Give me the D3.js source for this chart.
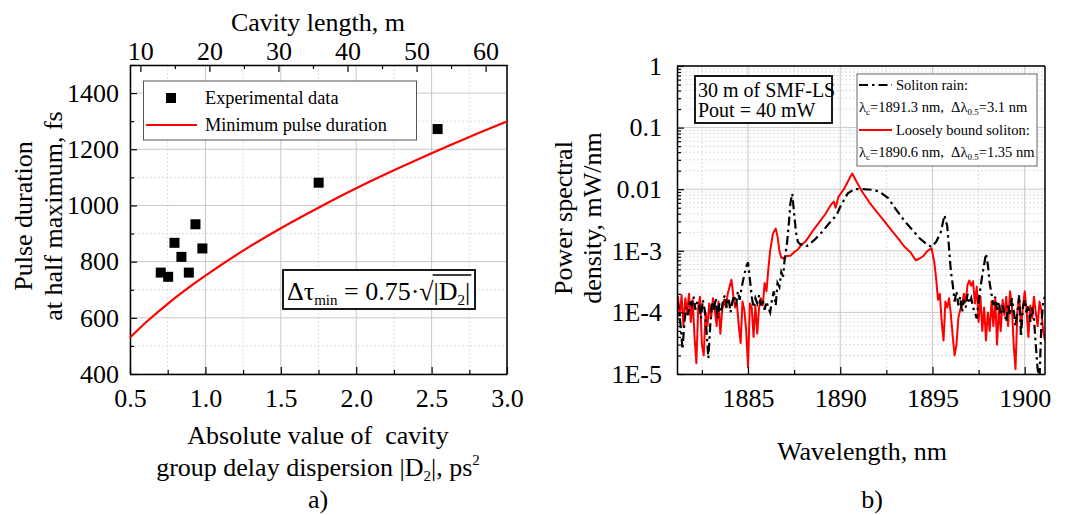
<!DOCTYPE html>
<html><head><meta charset="utf-8">
<script src="https://cdn.jsdelivr.net/npm/d3@7"></script>
<style>
html,body{margin:0;padding:0;background:#fff;}
svg text{font-family:"Liberation Serif","Times New Roman","DejaVu Serif",serif !important;fill:#000;}
</style></head>
<body><svg id="c" width="1084" height="515" font-family="Liberation Serif"></svg>
<script>
// ---------- Panel a) data ----------
const expD2 = [0.704, 0.753, 0.795, 0.841, 0.890, 0.934, 0.980, 1.751, 2.540];
const expPulse = [761, 746, 867, 817, 761, 933, 847, 1081, 1272];
const minD2 = [0.5, 0.625, 0.75, 0.875, 1.0, 1.25, 1.5, 1.75, 2.0, 2.25, 2.5, 2.75, 3.0];
const minPulse = [530, 593, 650, 702, 750, 839, 919, 992, 1061, 1125, 1186, 1244, 1299];
const aXTicks = [0.5, 1.0, 1.5, 2.0, 2.5, 3.0];
const aYTicks = [400, 600, 800, 1000, 1200, 1400];
const aTopTicks = [10, 20, 30, 40, 50, 60];

// ---------- Panel b) data ----------
const rainWl = [1881.15,1881.25,1881.35,1881.45,1881.55,1881.65,1881.75,1881.85,1881.95,1882.05,1882.15,1882.25,1882.35,1882.45,1882.55,1882.65,1882.75,1882.85,1882.95,1883.05,1883.15,1883.25,1883.35,1883.45,1883.55,1883.65,1883.75,1883.85,1883.95,1884.05,1884.15,1884.25,1884.35,1884.45,1884.55,1884.65,1884.75,1884.9,1885.0,1885.1,1885.2,1885.3,1885.4,1885.5,1885.6,1885.7,1885.8,1885.9,1886.0,1886.1,1886.2,1886.3,1886.4,1886.5,1886.6,1886.7,1886.8,1886.9,1887.0,1887.1,1887.2,1887.3,1887.4,1887.5,1887.6,1887.7,1887.85,1888.0,1888.2,1888.6,1889.0,1889.4,1889.8,1890.0,1890.4,1890.75,1891.2,1891.7,1892.1,1892.6,1893.0,1893.5,1893.9,1894.3,1894.6,1894.95,1895.2,1895.45,1895.65,1895.8,1895.9,1896.0,1896.1,1896.2,1896.3,1896.4,1896.5,1896.6,1896.7,1896.8,1896.9,1897.0,1897.1,1897.2,1897.3,1897.4,1897.5,1897.6,1897.7,1897.8,1897.9,1898.0,1898.1,1898.2,1898.3,1898.4,1898.5,1898.6,1898.7,1898.8,1898.9,1899.0,1899.1,1899.2,1899.3,1899.4,1899.5,1899.6,1899.7,1899.8,1899.9,1900.0,1900.1,1900.2,1900.3,1900.4,1900.5,1900.6,1900.7,1900.8,1900.9,1901.0,1901.1];
const rainPsd = [1.6e-4,1.1e-4,6e-5,2.5e-5,7e-5,1.2e-4,9e-5,1.6e-4,1.3e-4,1.8e-4,1.1e-4,1.5e-4,1.3e-4,8e-5,1.6e-4,1.1e-4,5e-5,1.8e-5,6e-5,1.5e-4,1.1e-4,1.7e-4,8e-5,1.4e-4,1e-4,1.6e-4,1.9e-4,1.2e-4,1.7e-4,1e-4,1.5e-4,1.9e-4,1.3e-4,2.2e-4,1.6e-4,2.5e-4,3.5e-4,5.5e-4,6.5e-4,3.5e-4,1.8e-4,1.2e-4,1.7e-4,1.4e-4,1.9e-4,1.3e-4,1.6e-4,1.1e-4,1.5e-4,1.2e-4,1.0e-4,1.6e-4,2.2e-4,1.3e-4,3.0e-4,2.6e-4,4.5e-4,3.8e-4,8e-4,1.2e-3,2.5e-3,6e-3,8.5e-3,4e-3,2e-3,1.4e-3,1.25e-3,1.3e-3,1.2e-3,1.5e-3,2.0e-3,2.8e-3,3.8e-3,5.2e-3,8.5e-3,1.0e-2,1.0e-2,9.8e-3,9.2e-3,7.2e-3,4.8e-3,3.0e-3,2.2e-3,1.6e-3,1.35e-3,1.15e-3,1.4e-3,2e-3,3.8e-3,2.5e-3,1.1e-3,4.5e-4,2.8e-4,1.5e-4,2.2e-4,1.3e-4,1.8e-4,1.0e-4,1.6e-4,1.2e-4,2.0e-4,1.4e-4,1.7e-4,1.2e-4,1.0e-4,8e-5,1.5e-4,2.5e-4,4e-4,6e-4,9e-4,6e-4,3e-4,2.0e-4,1.3e-4,1.8e-4,1.1e-4,1.5e-4,9e-5,1.3e-4,1.0e-4,7e-5,1.4e-4,9e-5,1.7e-4,1.1e-4,6e-5,1.0e-4,1.9e-4,4e-5,1.2e-4,1.6e-4,1.0e-4,1.3e-4,7e-5,1.2e-4,8e-5,3e-5,1.2e-5,8e-6,6e-5,1.5e-4,1.8e-4];

const boundWl = [1881.15,1881.2,1881.3,1881.4,1881.5,1881.6,1881.7,1881.8,1881.9,1882.0,1882.1,1882.2,1882.3,1882.4,1882.5,1882.6,1882.7,1882.8,1882.9,1883.0,1883.1,1883.2,1883.3,1883.4,1883.5,1883.6,1883.7,1883.8,1883.9,1884.0,1884.1,1884.2,1884.3,1884.4,1884.5,1884.6,1884.7,1884.8,1884.9,1885.0,1885.1,1885.2,1885.3,1885.4,1885.5,1885.6,1885.7,1885.8,1885.9,1886.0,1886.1,1886.2,1886.35,1886.5,1886.6,1886.7,1886.8,1886.95,1887.1,1887.3,1887.5,1887.7,1887.9,1888.1,1888.3,1888.6,1888.9,1889.2,1889.5,1889.65,1889.75,1889.9,1890.2,1890.45,1890.65,1890.9,1891.2,1891.6,1892.0,1892.4,1892.8,1893.2,1893.5,1893.8,1894.1,1894.3,1894.5,1894.7,1894.95,1895.1,1895.2,1895.3,1895.4,1895.5,1895.6,1895.7,1895.8,1895.9,1896.0,1896.1,1896.2,1896.3,1896.4,1896.5,1896.6,1896.7,1896.8,1896.9,1897.0,1897.1,1897.2,1897.3,1897.4,1897.5,1897.6,1897.7,1897.8,1897.9,1898.0,1898.1,1898.2,1898.3,1898.4,1898.5,1898.6,1898.7,1898.8,1898.9,1899.0,1899.1,1899.2,1899.3,1899.4,1899.5,1899.6,1899.7,1899.8,1899.9,1900.0,1900.1,1900.2,1900.3,1900.4,1900.5,1900.6,1900.7,1900.8,1900.9,1901.0,1901.1];
const boundPsd = [1.0e-4,1.8e-4,9e-5,1.9e-4,6e-5,1.7e-4,1.0e-4,2.0e-4,7e-5,1.6e-4,4e-5,1.5e-5,1.2e-4,1.8e-4,3e-5,2.0e-5,1.0e-4,6e-5,1.4e-4,8e-5,1.7e-4,1.1e-4,6e-5,1.5e-4,4.5e-5,1.1e-4,1.6e-4,1.2e-4,2.0e-4,2.6e-4,3.4e-4,1.9e-4,1.2e-4,1.4e-4,6e-5,3.2e-5,1.5e-4,1.1e-4,5e-5,1.3e-5,1.4e-4,1.2e-4,4e-5,1.3e-4,4.5e-5,1.2e-4,1.7e-4,1.3e-4,3e-4,2.2e-4,5e-4,1.0e-3,1.9e-3,2.3e-3,1.7e-3,1.0e-3,7.8e-4,7.5e-4,8.2e-4,8.3e-4,9.5e-4,1.05e-3,1.25e-3,1.4e-3,1.7e-3,2.3e-3,3.0e-3,4.0e-3,5.6e-3,6.3e-3,5.0e-3,7.5e-3,1.0e-2,1.4e-2,1.8e-2,1.3e-2,9e-3,6e-3,4.2e-3,3.0e-3,2.1e-3,1.5e-3,1.15e-3,9.5e-4,7.0e-4,7.5e-4,8.2e-4,9.8e-4,1.1e-3,6.5e-4,3.5e-4,1.6e-4,2.0e-4,7e-5,3.5e-5,1.5e-4,1.2e-4,1.7e-4,9e-5,4e-5,2.0e-5,3e-5,8e-5,1.1e-4,1.3e-4,2.0e-4,1.5e-4,2.8e-4,3.3e-4,2.7e-4,3.2e-4,1.4e-4,2.6e-4,7e-5,1.8e-4,5e-5,1.2e-4,3.5e-5,1.0e-4,5e-5,1.5e-4,6e-5,1.7e-4,3e-5,1.2e-4,5e-5,1.6e-4,9e-5,1.8e-4,6e-5,2.2e-4,1.4e-4,3e-5,1.2e-5,1.0e-4,1.8e-4,6e-5,1.2e-4,2.2e-4,1.1e-4,4e-5,1.3e-4,8e-5,1.8e-4,1.0e-4,6e-5,1.5e-4,1.1e-4,5e-5,3.5e-5];
const bXTicks = [1885, 1890, 1895, 1900];
const bYTicks = [1, 0.1, 0.01, 1e-3, 1e-4, 1e-5];
const bYLabels = ["1", "0.1", "0.01", "1E-3", "1E-4", "1E-5"];

const FONT = "Liberation Serif";
const svg = d3.select("#c");
const gridMajor = "#c8c8c8", gridMinor = "#dcdcdc";
const fs = "26px";
function txt(g, x, y, size, s) {
  return g.append("text").attr("x", x).attr("y", y).attr("font-family", FONT).style("font-size", size).text(s);
}

// ===================== Panel a =====================
const xA = d3.scaleLinear([0.5, 3], [130, 507]);
const yA = d3.scaleLinear([400, 1500], [374, 65]);
const xTop = d3.scaleLinear([8.5, 63.1], [130, 507]);
const gA = svg.append("g");

const aXMinor = d3.range(0.75, 3, 0.5);
const aYMinor = d3.range(500, 1501, 200);
gA.selectAll(".gmx").data(aXMinor).join("line").attr("x1", d => xA(d)).attr("x2", d => xA(d)).attr("y1", 65).attr("y2", 374)
  .attr("stroke", gridMinor).attr("stroke-dasharray", "2,2");
gA.selectAll(".gmy").data(aYMinor).join("line").attr("y1", d => yA(d)).attr("y2", d => yA(d)).attr("x1", 130).attr("x2", 507)
  .attr("stroke", gridMinor).attr("stroke-dasharray", "2,2");
gA.selectAll(".gx").data(aXTicks).join("line").attr("x1", d => xA(d)).attr("x2", d => xA(d)).attr("y1", 65).attr("y2", 374)
  .attr("stroke", gridMajor);
gA.selectAll(".gy").data(aYTicks).join("line").attr("y1", d => yA(d)).attr("y2", d => yA(d)).attr("x1", 130).attr("x2", 507)
  .attr("stroke", gridMajor);

function styleAxis(a) {
  a.attr("font-family", FONT);
  a.selectAll("text").attr("font-family", FONT).style("font-size", fs);
  a.select(".domain").attr("stroke", "#000").attr("stroke-width", 1.5);
  a.selectAll(".tick line").attr("stroke", "#000").attr("stroke-width", 1.2);
}
const axB = gA.append("g").attr("transform", "translate(0,374)")
  .call(d3.axisBottom(xA).tickValues(d3.range(0.5, 3.01, 0.25)).tickSize(-6).tickSizeOuter(0).tickPadding(15)
  .tickFormat(d => aXTicks.some(t => Math.abs(t - d) < 1e-9) ? d3.format(".1f")(d) : ""));
axB.selectAll(".tick line").attr("y2", (d) => aXTicks.some(t => Math.abs(t - d) < 1e-9) ? -7 : -4);
const axL = gA.append("g").attr("transform", "translate(130,0)")
  .call(d3.axisLeft(yA).tickValues(d3.range(400, 1501, 100)).tickSize(-6).tickSizeOuter(0).tickPadding(11)
  .tickFormat(d => aYTicks.includes(d) ? d : ""));
axL.selectAll(".tick line").attr("x2", d => aYTicks.includes(d) ? 7 : 4);
const axT = gA.append("g").attr("transform", "translate(0,65)")
  .call(d3.axisTop(xTop).tickValues(d3.range(10, 63, 5)).tickSize(-6).tickSizeOuter(0).tickPadding(5)
  .tickFormat(d => aTopTicks.includes(d) ? d : ""));
axT.selectAll(".tick line").attr("y2", d => aTopTicks.includes(d) ? 7 : 4);
[axB, axL, axT].forEach(styleAxis);
gA.append("line").attr("x1", 507).attr("x2", 507).attr("y1", 65).attr("y2", 374).attr("stroke", "#000").attr("stroke-width", 1.5);

gA.append("path").datum(minD2.map((d, i) => [d, minPulse[i]]))
  .attr("d", d3.line().x(d => xA(d[0])).y(d => yA(d[1])).curve(d3.curveMonotoneX))
  .attr("fill", "none").attr("stroke", "#ff0000").attr("stroke-width", 2.2);
const sq = 10;
gA.selectAll(".sq").data(expD2.map((d, i) => [d, expPulse[i]])).join("rect")
  .attr("x", d => xA(d[0]) - sq / 2).attr("y", d => yA(d[1]) - sq / 2).attr("width", sq).attr("height", sq).attr("fill", "#000");

// legend a
gA.append("rect").attr("x", 143.5).attr("y", 81).attr("width", 273).attr("height", 59).attr("fill", "#fff").attr("stroke", "#555").attr("stroke-width", 1);
gA.append("rect").attr("x", 171 - sq / 2).attr("y", 98 - sq / 2).attr("width", sq).attr("height", sq).attr("fill", "#000");
txt(gA, 205, 104, "18.3px", "Experimental data");
gA.append("line").attr("x1", 146).attr("x2", 197).attr("y1", 125).attr("y2", 125).attr("stroke", "#ff0000").attr("stroke-width", 2.2);
txt(gA, 205, 131, "18.3px", "Minimum pulse duration");

// formula box
gA.append("rect").attr("x", 283).attr("y", 270).attr("width", 192).attr("height", 39).attr("fill", "#fff").attr("stroke", "#000").attr("stroke-width", 1.8);
const f1 = txt(gA, 287, 300, "26px", null);
f1.append("tspan").text("Δτ");
f1.append("tspan").attr("dy", 5).style("font-size", "15px").text("min");
f1.append("tspan").attr("dy", -5).text(" = 0.75·√");
const f1w = f1.node().getComputedTextLength();
const f2 = txt(gA, 287 + f1w, 300, "26px", null);
f2.append("tspan").text("|D");
f2.append("tspan").attr("dy", 5).style("font-size", "15px").text("2");
f2.append("tspan").attr("dy", -5).text("|");
const f2w = f2.node().getComputedTextLength();
gA.append("line").attr("x1", 287 + f1w - 1).attr("x2", 287 + f1w + f2w + 1).attr("y1", 275).attr("y2", 275).attr("stroke", "#000").attr("stroke-width", 1.3);

// titles a
txt(gA, 318, 31, fs, "Cavity length, m").attr("text-anchor", "middle");
gA.append("text").attr("font-family", FONT).attr("transform", "translate(32,216) rotate(-90)").attr("text-anchor", "middle").style("font-size", fs).text("Pulse duration");
gA.append("text").attr("font-family", FONT).attr("transform", "translate(62,216) rotate(-90)").attr("text-anchor", "middle").style("font-size", fs).text("at half maximum, fs");
txt(gA, 318, 444, fs, "Absolute value of  cavity").attr("text-anchor", "middle").style("white-space", "pre");
const t2 = txt(gA, 318, 476, fs, null).attr("text-anchor", "middle");
t2.append("tspan").text("group delay dispersion |D");
t2.append("tspan").attr("dy", 5).style("font-size", "15px").text("2");
t2.append("tspan").attr("dy", -5).text("|, ps");
t2.append("tspan").attr("dy", -11).style("font-size", "15px").text("2");
txt(gA, 318, 508, fs, "a)").attr("text-anchor", "middle");

// ===================== Panel b =====================
const xB = d3.scaleLinear([1881.15, 1901.1], [677, 1045]);
const yB = d3.scaleLog([1e-5, 1], [374, 66]);
const gB = svg.append("g");
const bXMinor = [1882.5, 1887.5, 1892.5, 1897.5];
const bYMinor = [];
for (let e = -5; e < 0; e++) for (let m = 2; m <= 9; m++) bYMinor.push(m * Math.pow(10, e));
gB.selectAll(".bgmx").data(bXMinor).join("line").attr("x1", d => xB(d)).attr("x2", d => xB(d)).attr("y1", 66).attr("y2", 374)
  .attr("stroke", gridMinor).attr("stroke-dasharray", "2,2");
gB.selectAll(".bgmy").data(bYMinor).join("line").attr("y1", d => yB(d)).attr("y2", d => yB(d)).attr("x1", 677).attr("x2", 1045)
  .attr("stroke", gridMinor).attr("stroke-dasharray", "2,2");
gB.selectAll(".bgx").data(bXTicks).join("line").attr("x1", d => xB(d)).attr("x2", d => xB(d)).attr("y1", 66).attr("y2", 374)
  .attr("stroke", gridMajor);
gB.selectAll(".bgy").data(bYTicks).join("line").attr("y1", d => yB(d)).attr("y2", d => yB(d)).attr("x1", 677).attr("x2", 1045)
  .attr("stroke", gridMajor);

svg.append("defs").append("clipPath").attr("id", "clipB").append("rect").attr("x", 677).attr("y", 66).attr("width", 368).attr("height", 308);
const lineB = d3.line().x(d => xB(d[0])).y(d => yB(Math.max(d[1], 1e-6)));
gB.append("path").datum(boundWl.map((d, i) => [d, boundPsd[i]])).attr("clip-path", "url(#clipB)")
  .attr("d", lineB).attr("fill", "none").attr("stroke", "#ff0000").attr("stroke-width", 2).attr("stroke-linejoin", "round");
gB.append("path").datum(rainWl.map((d, i) => [d, rainPsd[i]])).attr("clip-path", "url(#clipB)")
  .attr("d", lineB).attr("fill", "none").attr("stroke", "#000").attr("stroke-width", 2.2).attr("stroke-dasharray", "9,4,2.5,4");

const bxAll = d3.range(1882.5, 1901, 2.5);
const axBB = gB.append("g").attr("transform", "translate(0,374)")
  .call(d3.axisBottom(xB).tickValues(bxAll).tickSize(-6).tickSizeOuter(0).tickPadding(15)
  .tickFormat(d => bXTicks.includes(d) ? d : ""));
axBB.selectAll(".tick line").attr("y2", d => bXTicks.includes(d) ? -7 : -4);
const byAll = bYTicks.concat(bYMinor);
const axBL = gB.append("g").attr("transform", "translate(677,0)")
  .call(d3.axisLeft(yB).tickValues(byAll).tickSize(-6).tickSizeOuter(0).tickPadding(15)
  .tickFormat(d => { const i = bYTicks.indexOf(d); return i >= 0 ? bYLabels[i] : ""; }));
axBL.selectAll(".tick line").attr("x2", d => bYTicks.includes(d) ? 7 : 4);
[axBB, axBL].forEach(styleAxis);
gB.append("line").attr("x1", 677).attr("x2", 1045).attr("y1", 66).attr("y2", 66).attr("stroke", "#000").attr("stroke-width", 1.5);
gB.append("line").attr("x1", 1045).attr("x2", 1045).attr("y1", 66).attr("y2", 374).attr("stroke", "#000").attr("stroke-width", 1.5);

// legend boxes b
gB.append("rect").attr("x", 695).attr("y", 76).attr("width", 137).attr("height", 47).attr("fill", "#fff").attr("stroke", "#000").attr("stroke-width", 1.8);
txt(gB, 698, 97, "20px", "30 m of SMF-LS");
txt(gB, 698, 117, "20px", "Pout = 40 mW");

gB.append("rect").attr("x", 857).attr("y", 74).attr("width", 180).attr("height", 92).attr("fill", "#fff").attr("stroke", "#666").attr("stroke-width", 1);
gB.append("line").attr("x1", 859).attr("x2", 892).attr("y1", 85).attr("y2", 85).attr("stroke", "#000").attr("stroke-width", 2.2).attr("stroke-dasharray", "9,4,2.5,4");
txt(gB, 896, 90, "14.5px", "Soliton rain:");
function lamText(y, lc, dl) {
  const t = txt(gB, 859, y, "14.5px", null).style("white-space", "pre");
  t.append("tspan").text("λ");
  t.append("tspan").attr("dy", 3).style("font-size", "9px").text("c");
  t.append("tspan").attr("dy", -3).text("=" + lc + " nm,  Δλ");
  t.append("tspan").attr("dy", 3).style("font-size", "9px").text("0.5");
  t.append("tspan").attr("dy", -3).text("=" + dl + " nm");
}
lamText(112, "1891.3", "3.1");
gB.append("line").attr("x1", 859).attr("x2", 892).attr("y1", 130).attr("y2", 130).attr("stroke", "#ff0000").attr("stroke-width", 2);
txt(gB, 896, 135, "14.5px", "Loosely bound soliton:");
lamText(157, "1890.6", "1.35");

// titles b
gB.append("text").attr("font-family", FONT).attr("transform", "translate(572,218) rotate(-90)").attr("text-anchor", "middle").style("font-size", fs).text("Power spectral");
gB.append("text").attr("font-family", FONT).attr("transform", "translate(601,218) rotate(-90)").attr("text-anchor", "middle").style("font-size", fs).text("density, mW/nm");
txt(gB, 862, 460, fs, "Wavelength, nm").attr("text-anchor", "middle");
txt(gB, 872, 508, fs, "b)").attr("text-anchor", "middle");
</script></body></html>
